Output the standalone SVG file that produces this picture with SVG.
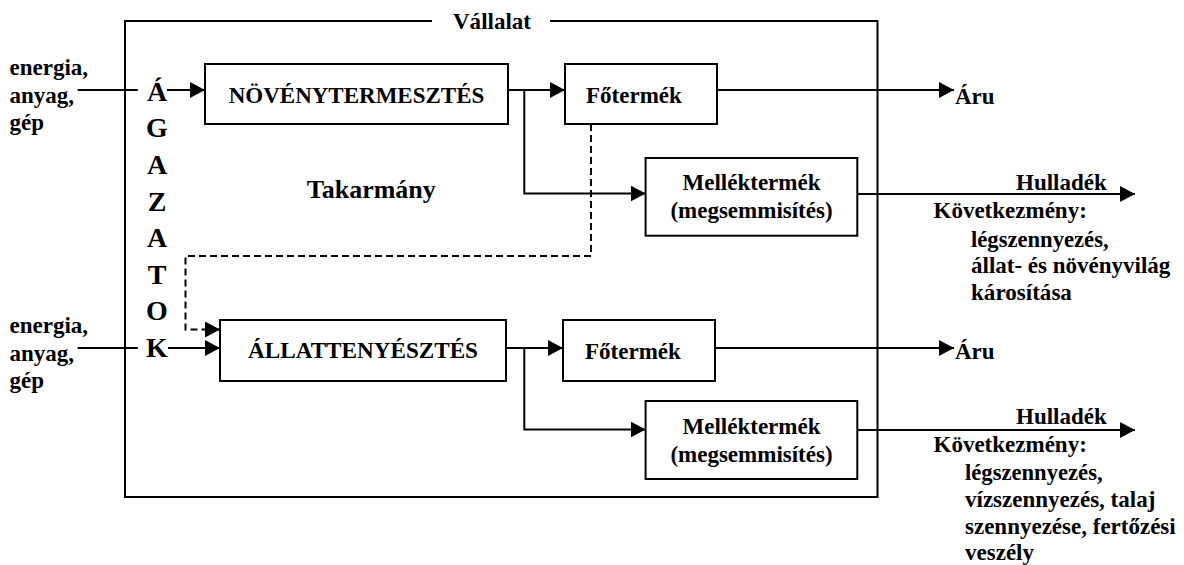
<svg xmlns="http://www.w3.org/2000/svg" width="1184" height="565" viewBox="0 0 1184 565">
<defs>
<style>
.t{font-family:"Liberation Serif",Tinos,"Times New Roman",Times,"Noto Serif","DejaVu Serif",serif;font-weight:bold;font-size:24px;fill:#000}
.s{font-size:28px}
.m{text-anchor:middle}
.box{fill:#fff;stroke:#000;stroke-width:2}
.ln{fill:none;stroke:#000;stroke-width:2}
.dash{stroke-dasharray:7 4}
</style>
<marker id="arr" markerUnits="userSpaceOnUse" markerWidth="16" markerHeight="16" refX="15" refY="8" orient="auto">
<path d="M0,0 L15,8 L0,16 z" fill="#000" stroke="none"/>
</marker>
</defs>
<rect width="1184" height="565" fill="#fff"/>

<g id="vallalat">
<path class="ln" d="M432,21 H125 V497 H877.5 V21 H550"/>
<text class="t m" x="492" y="28.5" textLength="78" lengthAdjust="spacingAndGlyphs">Vállalat</text>
</g>

<g id="agazatok">
<text class="t s m" x="157" y="100.7">Á</text>
<text class="t s m" x="157" y="137.3">G</text>
<text class="t s m" x="157" y="173.9">A</text>
<text class="t s m" x="157" y="210.5">Z</text>
<text class="t s m" x="157" y="247.1">A</text>
<text class="t s m" x="157" y="283.7">T</text>
<text class="t s m" x="157" y="320.3">O</text>
<text class="t s m" x="157" y="356.9">K</text>
</g>

<g id="input1">
<text class="t" x="9.5" y="75" textLength="78.6" lengthAdjust="spacingAndGlyphs">energia,</text>
<text class="t" x="9.5" y="102.5" textLength="64.5" lengthAdjust="spacingAndGlyphs">anyag,</text>
<text class="t" x="9.5" y="130" textLength="34.5" lengthAdjust="spacingAndGlyphs">gép</text>
</g>
<g id="input2">
<text class="t" x="9.5" y="333" textLength="78.6" lengthAdjust="spacingAndGlyphs">energia,</text>
<text class="t" x="9.5" y="360.5" textLength="64.5" lengthAdjust="spacingAndGlyphs">anyag,</text>
<text class="t" x="9.5" y="388" textLength="34.5" lengthAdjust="spacingAndGlyphs">gép</text>
</g>

<g id="connectors">
<path class="ln" d="M77.7,90 H137.8"/>
<path class="ln" d="M167,90 H205" marker-end="url(#arr)"/>
<path class="ln" d="M508,90 H565" marker-end="url(#arr)"/>
<path class="ln" d="M524.3,90 V193.5 H645.6" marker-end="url(#arr)"/>
<path class="ln" d="M717,90 H954" marker-end="url(#arr)"/>
<path class="ln" d="M857,194 H1135" marker-end="url(#arr)"/>
<path class="ln dash" d="M591,124 V256 H185.5 V329.5 H220" marker-end="url(#arr)"/>
<path class="ln" d="M77.7,348 H137.8"/>
<path class="ln" d="M168,348 H220" marker-end="url(#arr)"/>
<path class="ln" d="M506,348 H563" marker-end="url(#arr)"/>
<path class="ln" d="M524.3,348 V429.5 H645.6" marker-end="url(#arr)"/>
<path class="ln" d="M715,348 H954" marker-end="url(#arr)"/>
<path class="ln" d="M857,430 H1135" marker-end="url(#arr)"/>
</g>

<g id="novenytermesztes">
<rect class="box" x="205" y="64" width="303" height="60"/>
<text class="t m" x="356.5" y="103.3" textLength="255.6" lengthAdjust="spacingAndGlyphs">NÖVÉNYTERMESZTÉS</text>
</g>
<g id="fotermek1">
<rect class="box" x="565" y="64" width="152" height="60"/>
<text class="t" x="586" y="103.3" textLength="95.8" lengthAdjust="spacingAndGlyphs">Főtermék</text>
</g>
<g id="mellektermek1">
<rect class="box" x="645.6" y="158" width="211.7" height="77.7"/>
<text class="t m" x="751.5" y="190" textLength="138" lengthAdjust="spacingAndGlyphs">Melléktermék</text>
<text class="t m" x="751.5" y="218.3" textLength="162.2" lengthAdjust="spacingAndGlyphs">(megsemmisítés)</text>
</g>
<g id="takarmany">
<text class="t m" x="371.3" y="198.3" style="font-size:25.5px" textLength="129" lengthAdjust="spacingAndGlyphs">Takarmány</text>
</g>

<g id="allattenyesztes">
<rect class="box" x="220" y="320" width="286" height="61"/>
<text class="t m" x="363" y="358.3" textLength="230" lengthAdjust="spacingAndGlyphs">ÁLLATTENYÉSZTÉS</text>
</g>
<g id="fotermek2">
<rect class="box" x="563" y="320" width="152" height="61"/>
<text class="t" x="585" y="359.3" textLength="95.8" lengthAdjust="spacingAndGlyphs">Főtermék</text>
</g>
<g id="mellektermek2">
<rect class="box" x="645.6" y="401" width="211.7" height="78"/>
<text class="t m" x="751.5" y="434" textLength="138" lengthAdjust="spacingAndGlyphs">Melléktermék</text>
<text class="t m" x="751.5" y="461.7" textLength="162.2" lengthAdjust="spacingAndGlyphs">(megsemmisítés)</text>
</g>

<g id="aru1">
<text class="t" x="955" y="104.3" textLength="39.6" lengthAdjust="spacingAndGlyphs">Áru</text>
</g>
<g id="aru2">
<text class="t" x="955" y="358.5" textLength="39.6" lengthAdjust="spacingAndGlyphs">Áru</text>
</g>

<g id="hulladek1">
<text class="t" x="1016" y="190" textLength="90.8" lengthAdjust="spacingAndGlyphs">Hulladék</text>
<text class="t" x="933.5" y="218" textLength="153.3" lengthAdjust="spacingAndGlyphs">Következmény:</text>
<text class="t" x="971" y="246.5" textLength="137.6" lengthAdjust="spacingAndGlyphs">légszennyezés,</text>
<text class="t" x="971" y="273" textLength="199.3" lengthAdjust="spacingAndGlyphs">állat- és növényvilág</text>
<text class="t" x="971" y="299.5" textLength="100.9" lengthAdjust="spacingAndGlyphs">károsítása</text>
</g>
<g id="hulladek2">
<text class="t" x="1016" y="424" textLength="90.8" lengthAdjust="spacingAndGlyphs">Hulladék</text>
<text class="t" x="933.5" y="451.5" textLength="153.3" lengthAdjust="spacingAndGlyphs">Következmény:</text>
<text class="t" x="965" y="480" textLength="137.6" lengthAdjust="spacingAndGlyphs">légszennyezés,</text>
<text class="t" x="965" y="507" textLength="190.3" lengthAdjust="spacingAndGlyphs">vízszennyezés, talaj</text>
<text class="t" x="965" y="534" textLength="210.7" lengthAdjust="spacingAndGlyphs">szennyezése, fertőzési</text>
<text class="t" x="965" y="560" textLength="69" lengthAdjust="spacingAndGlyphs">veszély</text>
</g>
</svg>
